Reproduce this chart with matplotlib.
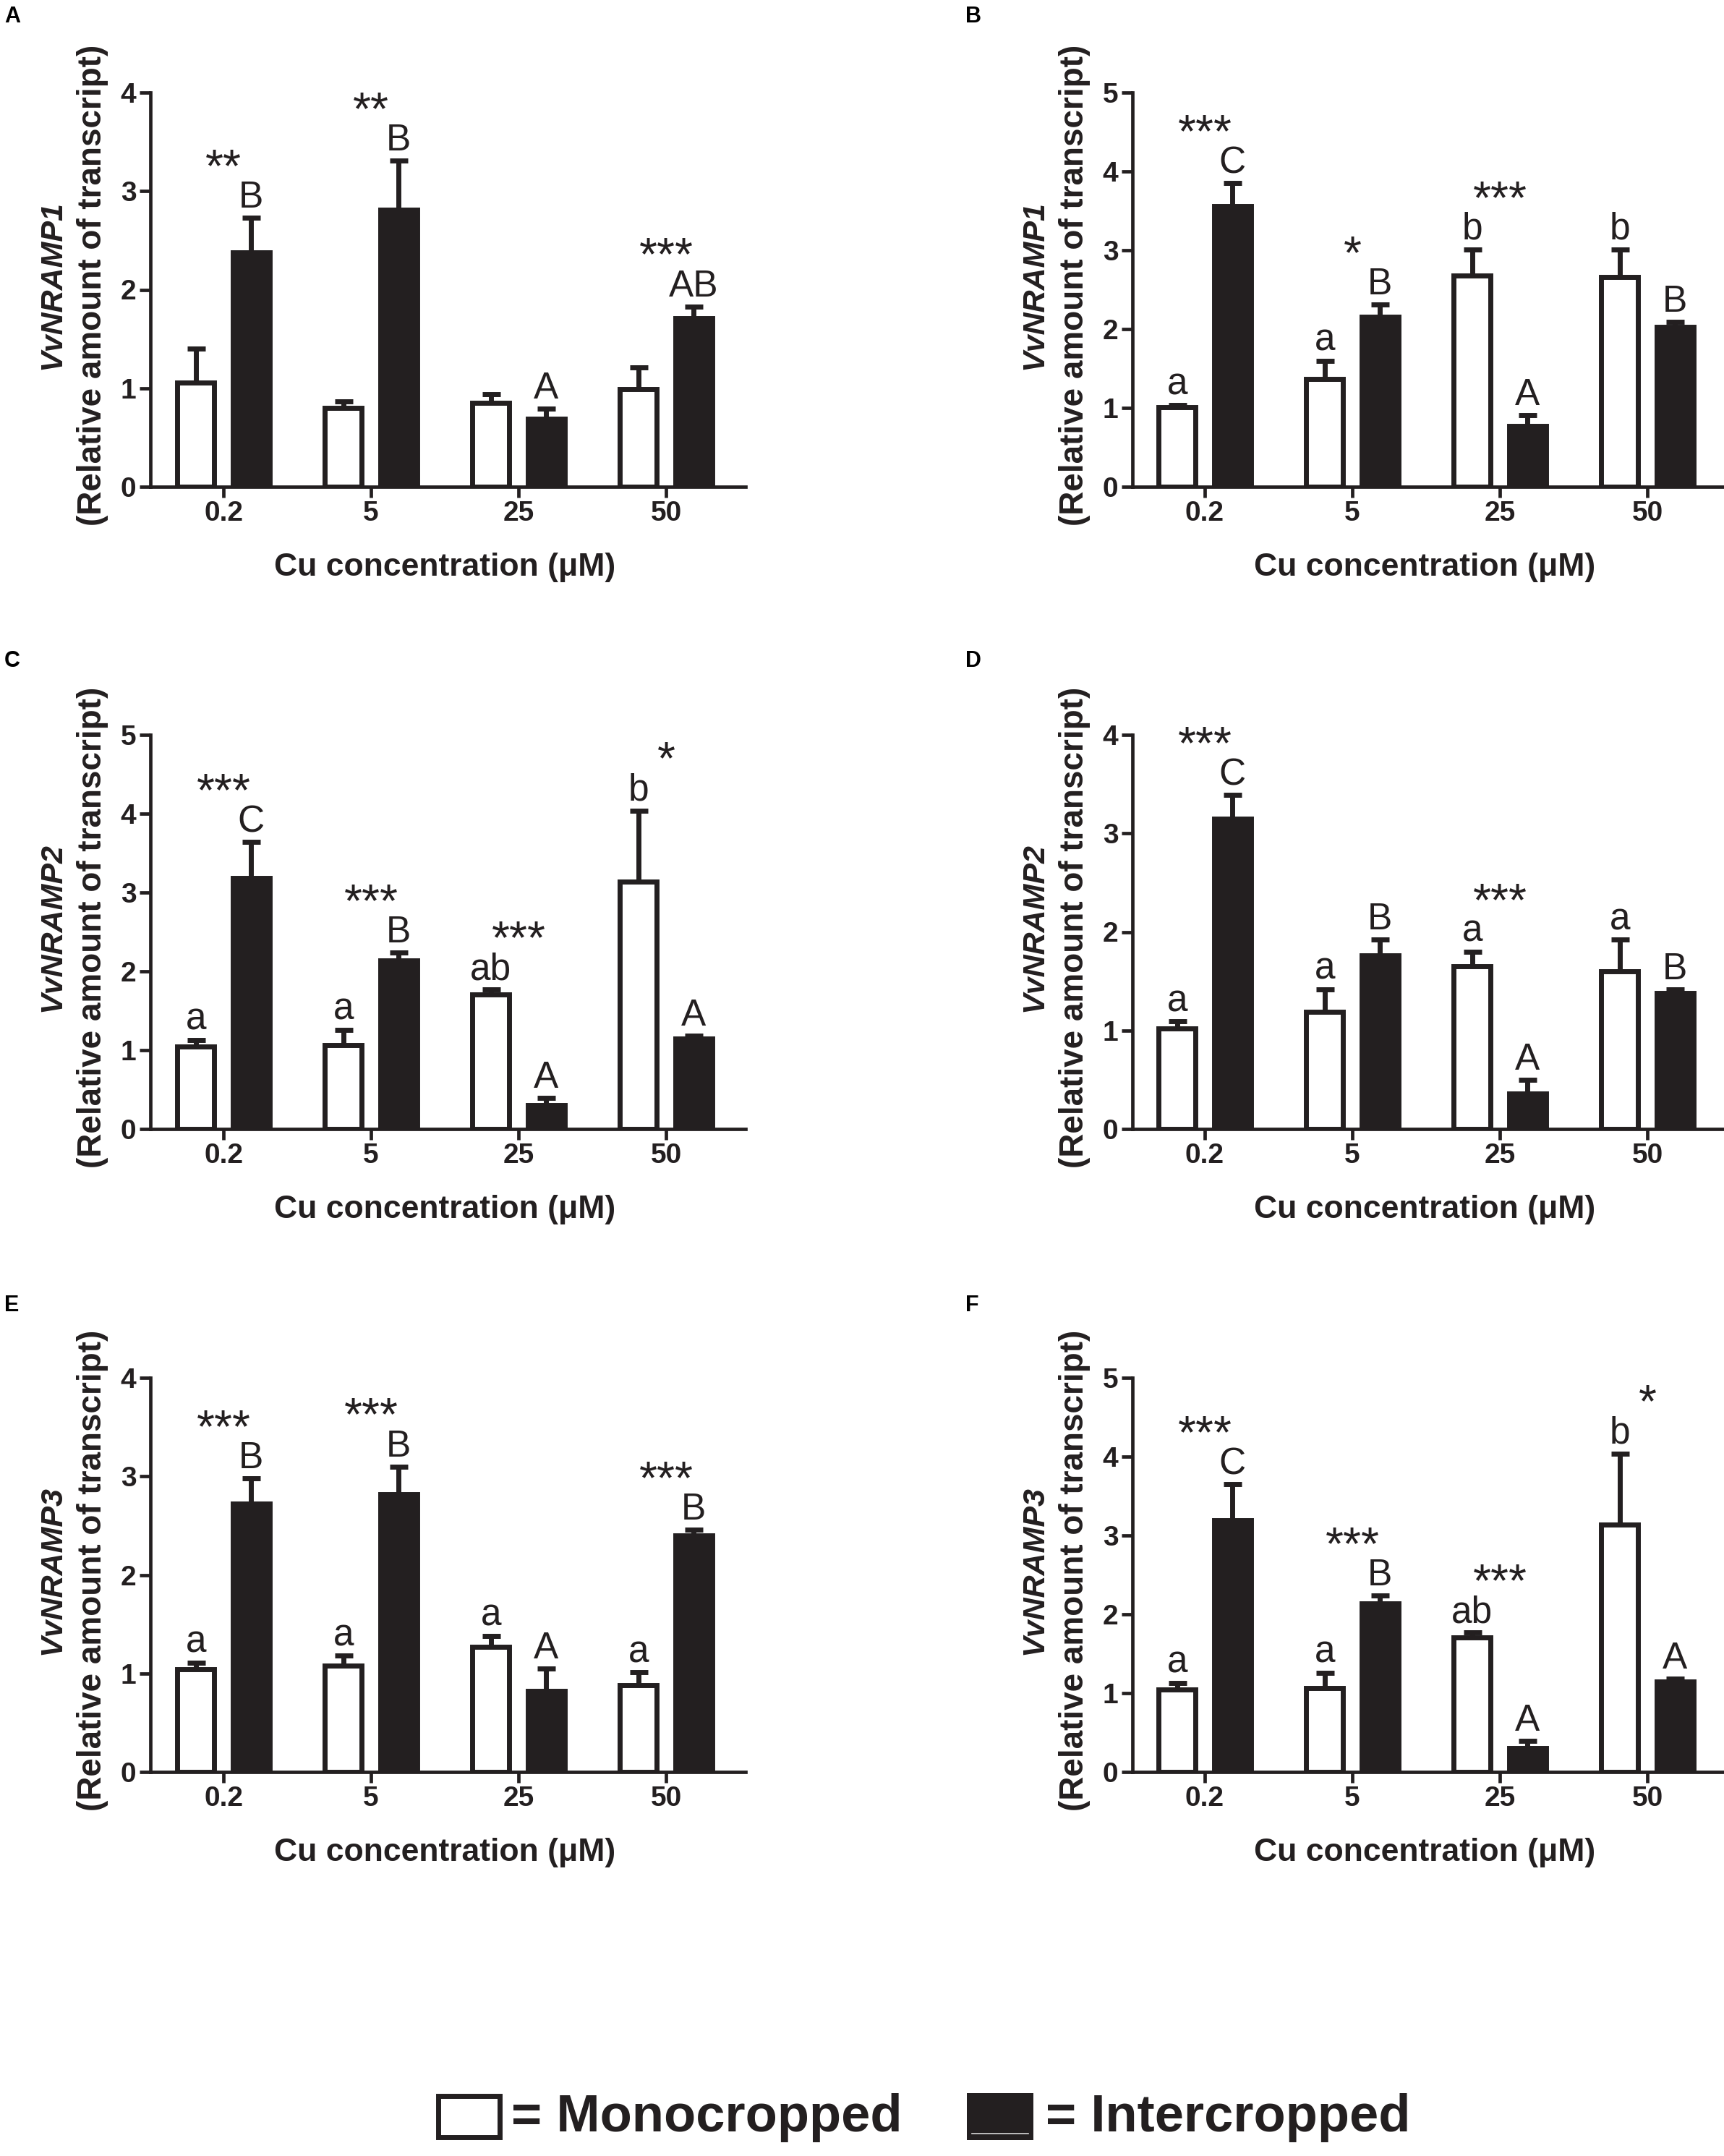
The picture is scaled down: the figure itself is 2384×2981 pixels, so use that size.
import numpy as np
import matplotlib
matplotlib.use("Agg")
import matplotlib.pyplot as plt
from matplotlib.patches import Rectangle
from matplotlib.lines import Line2D

plt.rcParams['font.family'] = ['Liberation Sans', 'DejaVu Sans']

# ---------------- data ----------------
categories = ['0.2', '5', '25', '50']

A_mono = [1.06, 0.80, 0.85, 0.99]
A_mono_err = [0.34, 0.065, 0.09, 0.22]
A_inter = [2.38, 2.81, 0.69, 1.71]
A_inter_err = [0.35, 0.50, 0.10, 0.12]
A_mono_letters = ['', '', '', '']
A_inter_letters = ['B', 'B', 'A', 'AB']
A_stars = ['**', '**', '', '***']

B_mono = [1.01, 1.37, 2.68, 2.66]
B_mono_err = [0.03, 0.23, 0.33, 0.35]
B_inter = [3.56, 2.16, 0.77, 2.03]
B_inter_err = [0.29, 0.15, 0.14, 0.06]
B_mono_letters = ['a', 'a', 'b', 'b']
B_inter_letters = ['C', 'B', 'A', 'B']
B_stars = ['***', '*', '***', '']

C_mono = [1.05, 1.06, 1.71, 3.14]
C_mono_err = [0.08, 0.20, 0.06, 0.90]
C_inter = [3.18, 2.14, 0.30, 1.15]
C_inter_err = [0.46, 0.10, 0.09, 0.03]
C_mono_letters = ['a', 'a', 'ab', 'b']
C_inter_letters = ['C', 'B', 'A', 'A']
C_stars = ['***', '***', '***', '*']

D_mono = [1.02, 1.19, 1.65, 1.60]
D_mono_err = [0.07, 0.23, 0.15, 0.32]
D_inter = [3.15, 1.76, 0.36, 1.38]
D_inter_err = [0.24, 0.16, 0.14, 0.04]
D_mono_letters = ['a', 'a', 'a', 'a']
D_inter_letters = ['C', 'B', 'A', 'B']
D_stars = ['***', '', '***', '']

E_mono = [1.04, 1.08, 1.27, 0.88]
E_mono_err = [0.07, 0.10, 0.11, 0.13]
E_inter = [2.72, 2.82, 0.82, 2.40]
E_inter_err = [0.26, 0.28, 0.23, 0.06]
E_mono_letters = ['a', 'a', 'a', 'a']
E_inter_letters = ['B', 'B', 'A', 'B']
E_stars = ['***', '***', '', '***']

F_mono = [1.05, 1.06, 1.71, 3.14]
F_mono_err = [0.08, 0.20, 0.06, 0.90]
F_inter = [3.19, 2.14, 0.30, 1.15]
F_inter_err = [0.46, 0.10, 0.09, 0.03]
F_mono_letters = ['a', 'a', 'ab', 'b']
F_inter_letters = ['C', 'B', 'A', 'A']
F_stars = ['***', '***', '***', '*']

panel_ids = ['A', 'B', 'C', 'D', 'E', 'F']
genes = ['VvNRAMP1', 'VvNRAMP1', 'VvNRAMP2', 'VvNRAMP2', 'VvNRAMP3', 'VvNRAMP3']
ymaxes = [4, 5, 5, 4, 4, 5]

panels = [
    (A_mono, A_mono_err, A_inter, A_inter_err, A_mono_letters, A_inter_letters, A_stars),
    (B_mono, B_mono_err, B_inter, B_inter_err, B_mono_letters, B_inter_letters, B_stars),
    (C_mono, C_mono_err, C_inter, C_inter_err, C_mono_letters, C_inter_letters, C_stars),
    (D_mono, D_mono_err, D_inter, D_inter_err, D_mono_letters, D_inter_letters, D_stars),
    (E_mono, E_mono_err, E_inter, E_inter_err, E_mono_letters, E_inter_letters, E_stars),
    (F_mono, F_mono_err, F_inter, F_inter_err, F_mono_letters, F_inter_letters, F_stars),
]

# ---------------- layout (pixels) ----------------
W, H = 2384, 2981
DPI = 100
INK = '#231f20'
col_px = [(208, 1031, 309), (1566, 2382, 1666)]   # left, right, x of first category
row_px = [(128, 673), (1016, 1561), (1905, 2450)]  # top, bottom
label_px = [(6, 8), (1335, 8), (6, 899), (1335, 899), (6, 1790), (1335, 1790)]
group_px = 204.0

fig = plt.figure(figsize=(W / DPI, H / DPI), dpi=DPI)

bar_w = 0.25
off = 0.188

for k, (mono, mono_e, inter, inter_e, ml, il, st) in enumerate(panels):
    r, c = divmod(k, 2)
    lpx, rpx, c0 = col_px[c]
    tpx, bpx = row_px[r]
    ax = fig.add_axes([lpx / W, 1 - bpx / H, (rpx - lpx) / W, (bpx - tpx) / H])
    x = np.arange(len(categories))
    ax.set_xlim((lpx - c0) / group_px, (rpx - c0) / group_px)
    ymax = ymaxes[k]
    ax.set_ylim(0, ymax)

    mono = np.array(mono); inter = np.array(inter)
    mono_e = np.array(mono_e); inter_e = np.array(inter_e)

    ax.bar(x - off, mono, bar_w, facecolor='white', edgecolor=INK, linewidth=5, zorder=2)
    ax.bar(x + off, inter, bar_w, facecolor=INK, edgecolor=INK, linewidth=5, zorder=2)
    for xs, vals, errs in ((x - off, mono, mono_e), (x + off, inter, inter_e)):
        eb = ax.errorbar(xs, vals, yerr=[np.zeros_like(errs), errs], fmt='none',
                         ecolor=INK, elinewidth=5, capsize=9, capthick=5, zorder=3)
        caps = eb[1]
        if len(caps) >= 1:
            caps[0].set_visible(False)

    # letters
    letter_tops = [[] for _ in x]
    for xs, vals, errs, labs in ((x - off, mono, mono_e, ml), (x + off, inter, inter_e, il)):
        for i in range(len(x)):
            if labs[i]:
                top = vals[i] + errs[i]
                ax.annotate(labs[i], xy=(xs[i], top), xytext=(0, 14), textcoords='offset pixels',
                            ha='center', va='baseline', fontsize=37, color=INK,
                            annotation_clip=False)
                letter_tops[i].append(top)
    for i in range(len(x)):
        if st[i]:
            ref = max(letter_tops[i]) if letter_tops[i] else max(mono[i] + mono_e[i], inter[i] + inter_e[i])
            ax.annotate(st[i], xy=(x[i], ref), xytext=(0, 50), textcoords='offset pixels',
                        ha='center', va='baseline', fontsize=46, color=INK,
                        annotation_clip=False)

    # axes styling
    for s in ('top', 'right'):
        ax.spines[s].set_visible(False)
    for s in ('left', 'bottom'):
        ax.spines[s].set_linewidth(3.4)
        ax.spines[s].set_color(INK)
    ax.set_xticks(x)
    ax.set_xticklabels(categories, fontweight='bold')
    ax.set_yticks(np.arange(0, ymax + 1))
    ax.set_yticklabels([str(v) for v in range(0, ymax + 1)], fontweight='bold')
    ax.tick_params(axis='both', width=3.4, length=11, color=INK, labelsize=28, labelcolor=INK)
    ax.tick_params(axis='y', pad=3)
    ax.tick_params(axis='x', pad=3)

    # y label (two lines)
    ax.annotate(genes[k], xy=(0, 0.5), xycoords='axes fraction', xytext=(-125, 6),
                textcoords='offset pixels', rotation=90, rotation_mode='anchor',
                ha='center', va='baseline', fontsize=31, fontweight='bold', fontstyle='italic',
                color=INK)
    ax.annotate('(Relative amount of transcript)', xy=(0, 0.5), xycoords='axes fraction',
                xytext=(-68, 6), textcoords='offset pixels', rotation=90, rotation_mode='anchor',
                ha='center', va='baseline', fontsize=33, fontweight='bold', color=INK)
    # x label
    ax.annotate('Cu concentration (\u03bcM)', xy=(0.5, 0), xycoords='axes fraction',
                xytext=(-4, -123), textcoords='offset pixels', ha='center', va='baseline',
                fontsize=32, fontweight='bold', color=INK)

    # panel letter
    px, py = label_px[k]
    fig.text(px / W, 1 - py / H, panel_ids[k], ha='left', va='top', fontsize=22,
             fontweight='bold', color='black')

# ---------------- legend ----------------
def fig_rect(x0, y0, x1, y1, **kw):
    return Rectangle((x0 / W, 1 - y1 / H), (x1 - x0) / W, (y1 - y0) / H,
                     transform=fig.transFigure, **kw)

fig.patches.append(fig_rect(606, 2898, 691, 2955, facecolor='white', edgecolor=INK, linewidth=5))
fig.patches.append(fig_rect(1337, 2894, 1429, 2959, facecolor=INK, edgecolor='none'))
fig.lines.append(Line2D([1344 / W, 1422 / W], [1 - 2950 / H, 1 - 2950 / H],
                        transform=fig.transFigure, color='#d8d8d8', linewidth=1.2))
fig.text(707 / W, 1 - 2947 / H, '= Monocropped', ha='left', va='baseline', fontsize=52,
         fontweight='bold', color=INK)
fig.text(1446 / W, 1 - 2947 / H, '= Intercropped', ha='left', va='baseline', fontsize=52,
         fontweight='bold', color=INK)

fig.savefig('out.png', dpi=DPI, facecolor='white')
